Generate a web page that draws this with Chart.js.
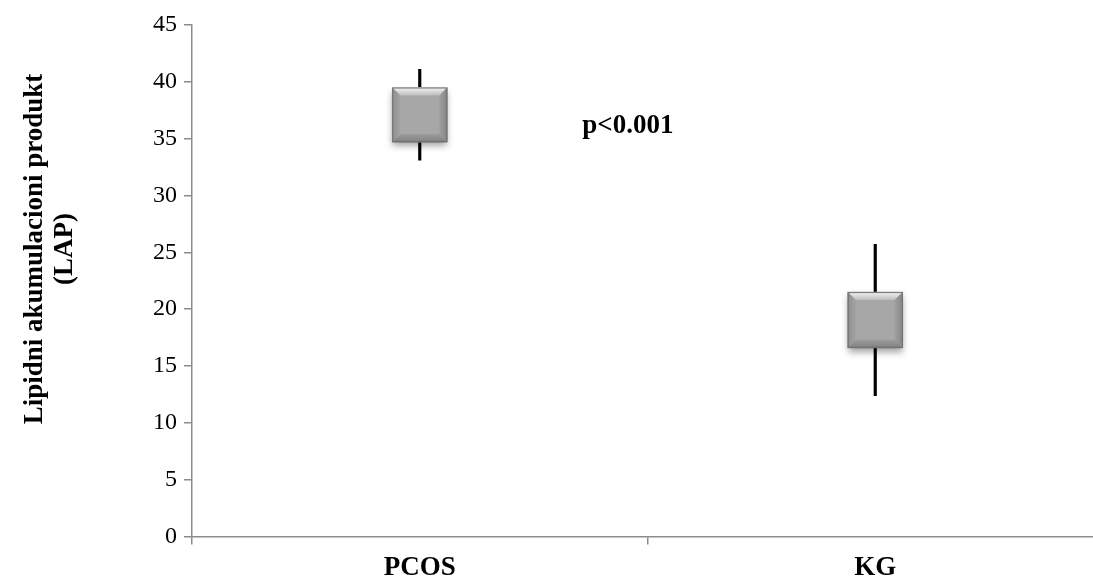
<!DOCTYPE html>
<html>
<head>
<meta charset="utf-8">
<script src="https://cdn.jsdelivr.net/npm/chart.js@4"></script>
<style>
  html, body { margin: 0; padding: 0; background: #fff; overflow: hidden; }
  #wrap { width: 1103px; height: 582px; position: relative; }
</style>
</head>
<body>
<div id="wrap"><canvas id="c"></canvas></div>
<script>
// Groups and LAP summary values (box range and whisker range)
const categories = ['PCOS', 'KG'];
const boxLow = [34.7, 16.6];
const boxHigh = [39.5, 21.5];
const whiskerLow = [33.1, 12.4];
const whiskerHigh = [41.1, 25.7];

// Value axis
const yMin = 0;
const yMax = 45;
const yStep = 5;

// Axis title and significance note
const yTitleLines = ['Lipidni akumulacioni produkt', '(LAP)'];
const pNote = 'p<0.001';
const pNoteValue = 36.1;   // vertical position on the value axis
const pNoteAt = 0.457;     // fraction of the way from the first group to the second

const serif = '"Liberation Serif", "Times New Roman", serif';

// Beveled, shadowed box drawn over each bar of the first dataset
const bevelBoxes = {
  id: 'bevelBoxes',
  afterDatasetDraw(chart, args) {
    if (args.index !== 0) return;
    const ctx = chart.ctx;
    args.meta.data.forEach(bar => {
      const p = bar.getProps(['x', 'y', 'base', 'width'], true);
      const l = p.x - p.width / 2, r = p.x + p.width / 2;
      const t = Math.min(p.y, p.base), b = Math.max(p.y, p.base);
      const bw = 8;

      ctx.save();
      ctx.shadowColor = 'rgba(0,0,0,0.38)';
      ctx.shadowBlur = 7;
      ctx.shadowOffsetY = 4;
      ctx.fillStyle = '#a6a6a6';
      ctx.fillRect(l, t, r - l, b - t);
      ctx.restore();

      const poly = (pts, fill) => {
        ctx.beginPath();
        ctx.moveTo(pts[0][0], pts[0][1]);
        for (let i = 1; i < pts.length; i++) ctx.lineTo(pts[i][0], pts[i][1]);
        ctx.closePath();
        ctx.fillStyle = fill;
        ctx.fill();
      };
      ctx.save();
      // face
      ctx.fillStyle = '#a7a7a7';
      ctx.fillRect(l, t, r - l, b - t);
      // top bevel
      const gTop = ctx.createLinearGradient(0, t, 0, t + bw);
      gTop.addColorStop(0, '#f4f4f4');
      gTop.addColorStop(1, '#bcbcbc');
      poly([[l, t], [r, t], [r - bw, t + bw], [l + bw, t + bw]], gTop);
      // left bevel
      const gLeft = ctx.createLinearGradient(l, 0, l + bw, 0);
      gLeft.addColorStop(0, '#8f8f8f');
      gLeft.addColorStop(1, '#a3a3a3');
      poly([[l, t], [l + bw, t + bw], [l + bw, b - bw], [l, b]], gLeft);
      // right bevel
      const gRight = ctx.createLinearGradient(r - bw, 0, r, 0);
      gRight.addColorStop(0, '#a0a0a0');
      gRight.addColorStop(1, '#858585');
      poly([[r, t], [r - bw, t + bw], [r - bw, b - bw], [r, b]], gRight);
      // bottom bevel
      const gBot = ctx.createLinearGradient(0, b - bw, 0, b);
      gBot.addColorStop(0, '#9c9c9c');
      gBot.addColorStop(1, '#808080');
      poly([[l, b], [l + bw, b - bw], [r - bw, b - bw], [r, b]], gBot);
      // outline
      ctx.strokeStyle = '#6f6f6f';
      ctx.lineWidth = 1;
      ctx.strokeRect(l + 0.5, t + 0.5, r - l - 1, b - t - 1);
      ctx.restore();
    });
  }
};

// Rotated two-line axis title and the p-value note
const labels = {
  id: 'labels',
  afterDraw(chart) {
    const ctx = chart.ctx;
    const xs = chart.scales.x, ys = chart.scales.y;
    ctx.save();
    ctx.fillStyle = '#000';
    ctx.font = 'bold 27px ' + serif;
    ctx.textAlign = 'center';
    ctx.textBaseline = 'middle';

    ctx.save();
    ctx.translate(0, 249);
    ctx.rotate(-Math.PI / 2);
    ctx.fillText(yTitleLines[0], 0, 35);
    ctx.fillText(yTitleLines[1], 0, 65);
    ctx.restore();

    const x0 = xs.getPixelForValue(0), x1 = xs.getPixelForValue(1);
    ctx.fillText(pNote, x0 + pNoteAt * (x1 - x0), ys.getPixelForValue(pNoteValue));
    ctx.restore();
  }
};

new Chart(document.getElementById('c'), {
  type: 'bar',
  data: {
    labels: categories,
    datasets: [
      {
        label: 'box',
        data: boxLow.map((v, i) => [v, boxHigh[i]]),
        backgroundColor: '#a6a6a6',
        borderWidth: 0,
        barThickness: 55,
        grouped: false
      },
      {
        label: 'whisker',
        data: whiskerLow.map((v, i) => [v, whiskerHigh[i]]),
        backgroundColor: '#000000',
        borderWidth: 0,
        barThickness: 2.5,
        grouped: false
      }
    ]
  },
  options: {
    responsive: true,
    maintainAspectRatio: false,
    animation: false,
    layout: { padding: { top: 25, right: 0, bottom: 0, left: 0 } },
    plugins: { legend: { display: false }, tooltip: { enabled: false } },
    scales: {
      x: {
        offset: true,
        afterFit(scale) { scale.height = 45.5; },
        grid: {
          offset: true,
          drawOnChartArea: false,
          drawTicks: true,
          tickLength: 8,
          color: '#8c8c8c',
          lineWidth: 1.5
        },
        border: { color: '#8c8c8c', width: 1.5 },
        ticks: {
          color: '#000',
          padding: 7.5,
          font: { family: serif, size: 27, weight: 'bold' }
        }
      },
      y: {
        min: yMin,
        max: yMax,
        afterFit(scale) { scale.width = 192; },
        grid: {
          drawOnChartArea: false,
          drawTicks: true,
          tickLength: 8,
          color: '#8c8c8c',
          lineWidth: 1.5
        },
        border: { color: '#8c8c8c', width: 1.5 },
        ticks: {
          stepSize: yStep,
          color: '#000',
          padding: 7,
          font: { family: serif, size: 24 }
        }
      }
    }
  },
  plugins: [bevelBoxes, labels]
});
</script>
</body>
</html>
